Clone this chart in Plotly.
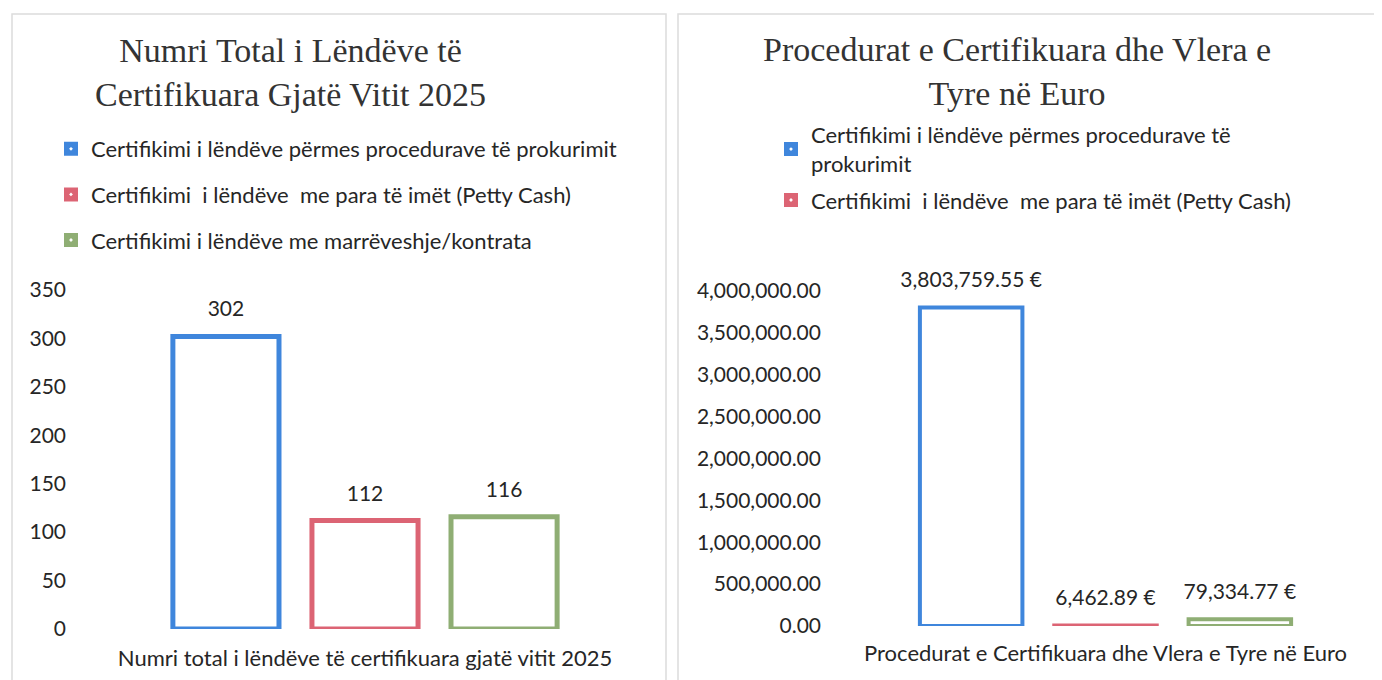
import plotly.graph_objects as go

# ---------------- data ----------------
left_category = ["Numri total i lëndëve të certifikuara gjatë vitit 2025"]
right_category = ["Procedurat e Certifikuara dhe Vlera e Tyre në Euro"]
series_names = [
    "Certifikimi i lëndëve përmes procedurave të prokurimit",
    "Certifikimi  i lëndëve  me para të imët (Petty Cash)",
    "Certifikimi i lëndëve me marrëveshje/kontrata",
]
right_legend_names = [
    "Certifikimi i lëndëve përmes procedurave të<br>prokurimit",
    "Certifikimi  i lëndëve  me para të imët (Petty Cash)",
    "Certifikimi i lëndëve me marrëveshje/kontrata",
]
right_show_legend = [True, True, False]
counts = [302, 112, 116]
values_eur = [3803759.55, 6462.89, 79334.77]
value_labels = ["3,803,759.55 €", "6,462.89 €", "79,334.77 €"]
left_title = "Numri Total i Lëndëve të<br>Certifikuara Gjatë Vitit 2025"
right_title = "Procedurat e Certifikuara dhe Vlera e<br>Tyre në Euro"
left_ticks = [0, 50, 100, 150, 200, 250, 300, 350]
right_ticks = [0, 500000, 1000000, 1500000, 2000000, 2500000, 3000000, 3500000, 4000000]

# ---------------- style ----------------
colors = ["#3f86dc", "#dc6474", "#8fae74"]
W, H = 1382, 680
OFF = 8  # page body margin
SANS = "Lato, 'Open Sans', sans-serif"
SERIF = "'Liberation Serif', 'DejaVu Serif', serif"
TXT = "#262626"


def px_x(p):
    return (p - OFF) / W


def px_y(p):
    return 1 - (p - OFF) / H


fig = go.Figure()

# left chart: bars and value labels
for i, name in enumerate(series_names):
    fig.add_trace(go.Bar(
        x=left_category, y=[counts[i]], name=name,
        marker=dict(color="white", line=dict(color=colors[i], width=5)),
        xaxis="x", yaxis="y", showlegend=False, hoverinfo="skip",
    ))
for i, name in enumerate(series_names):
    fig.add_trace(go.Scatter(
        x=left_category, y=[counts[i]], text=[str(counts[i])],
        mode="markers+text", textposition="top center", orientation="v",
        marker=dict(size=22, opacity=0), textfont=dict(family=SANS, size=21, color=TXT),
        xaxis="x", yaxis="y", showlegend=False, hoverinfo="skip", cliponaxis=False,
    ))

# right chart: bars and value labels
for i, name in enumerate(right_legend_names):
    fig.add_trace(go.Bar(
        x=right_category, y=[values_eur[i]], name=name,
        marker=dict(color="white", line=dict(color=colors[i], width=4)),
        xaxis="x2", yaxis="y2", showlegend=False, hoverinfo="skip",
    ))
for i, name in enumerate(right_legend_names):
    fig.add_trace(go.Scatter(
        x=right_category, y=[values_eur[i]], text=[value_labels[i]],
        mode="markers+text", textposition="top center", orientation="v",
        marker=dict(size=22, opacity=0), textfont=dict(family=SANS, size=21, color=TXT),
        xaxis="x2", yaxis="y2", showlegend=False, hoverinfo="skip", cliponaxis=False,
    ))

# legend entries (on a hidden helper axis so they do not join the label groups)
legend_marker = dict(symbol="square-dot", size=16, line=dict(color="white", width=2))
for i, name in enumerate(series_names):
    fig.add_trace(go.Scatter(
        x=[None], y=[None], mode="markers", name=name,
        marker=dict(color=colors[i], **legend_marker),
        xaxis="x3", yaxis="y3", legend="legend", legendgroup="L%d" % i, hoverinfo="skip",
    ))
for i, name in enumerate(right_legend_names):
    if right_show_legend[i]:
        fig.add_trace(go.Scatter(
            x=[None], y=[None], mode="markers", name=name,
            marker=dict(color=colors[i], **legend_marker),
            xaxis="x3", yaxis="y3", legend="legend2", legendgroup="R%d" % i, hoverinfo="skip",
        ))

axis_common = dict(showgrid=False, zeroline=False, showline=False, ticks="", automargin=False,
                   fixedrange=True)
num_font = dict(family=SANS, size=21, color=TXT)
cat_font = dict(family=SANS, size=22, color=TXT)

fig.update_layout(
    width=W, height=H,
    margin=dict(l=0, r=0, t=0, b=0, autoexpand=False),
    paper_bgcolor="white", plot_bgcolor="rgba(0,0,0,0)",
    barmode="group", bargap=0.255, bargroupgap=0.237,
    scattermode="group", scattergap=0.255,
    showlegend=True,
    xaxis=dict(domain=[px_x(85), px_x(645)], anchor="y", ticklabelstandoff=14,
               tickfont=cat_font, **axis_common),
    yaxis=dict(domain=[px_y(629), px_y(290)], anchor="x", range=[0, 350],
               tickvals=left_ticks, ticklabelstandoff=18, tickfont=num_font, **axis_common),
    xaxis2=dict(domain=[px_x(835), px_x(1376)], anchor="y2", ticklabelstandoff=12,
                tickfont=cat_font, **axis_common),
    yaxis2=dict(domain=[px_y(626), px_y(291)], anchor="x2", range=[0, 4000000],
                tickvals=right_ticks, tickformat=",.2f", ticklabelstandoff=13,
                tickfont=num_font, **axis_common),
    xaxis3=dict(domain=[0, 0.01], anchor="y3", visible=False, automargin=False),
    yaxis3=dict(domain=[0, 0.01], anchor="x3", visible=False, automargin=False),
    legend=dict(x=px_x(51), y=px_y(128), xanchor="left", yanchor="top",
                font=dict(family=SANS, size=22, color=TXT), tracegroupgap=14,
                bgcolor="rgba(0,0,0,0)"),
    legend2=dict(x=px_x(771), y=px_y(114), xanchor="left", yanchor="top",
                 font=dict(family=SANS, size=22, color=TXT), tracegroupgap=5,
                 bgcolor="rgba(0,0,0,0)"),
    annotations=[
        dict(text=left_title, x=px_x(290), y=px_y(72), xref="paper", yref="paper",
             xanchor="center", yanchor="middle",
             showarrow=False, font=dict(family=SERIF, size=34, color="#333333"), align="center"),
        dict(text=right_title, x=px_x(1017), y=px_y(71), xref="paper", yref="paper",
             xanchor="center", yanchor="middle",
             showarrow=False, font=dict(family=SERIF, size=34, color="#333333"), align="center"),
    ],
    shapes=[
        dict(type="rect", xref="paper", yref="paper", x0=px_x(12), x1=px_x(666), y0=-0.05, y1=px_y(14),
             line=dict(color="#dcdcdc", width=1.5)),
        dict(type="rect", xref="paper", yref="paper", x0=px_x(678), x1=1.05, y0=-0.05, y1=px_y(14),
             line=dict(color="#dcdcdc", width=1.5)),
    ],
)

fig.write_html("out.html")
